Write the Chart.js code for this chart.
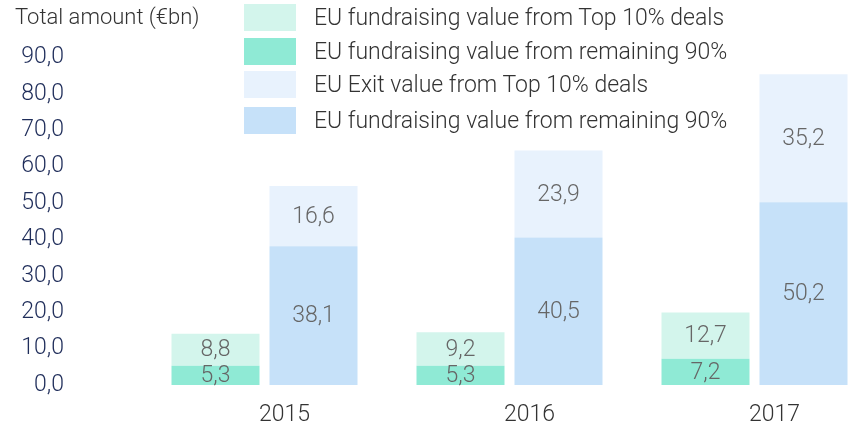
<!DOCTYPE html>
<html>
<head>
<meta charset="utf-8">
<script src="https://cdn.jsdelivr.net/npm/chart.js@4"></script>
<style>
  body { margin: 0; overflow: hidden; background: #fff; font-family: Roboto, "Liberation Sans", sans-serif; font-weight: 300; }
  #wrap { position: relative; width: 877px; height: 428px; }
  #chart { display: block; }
  #yTitle { position: absolute; left: 15px; top: 4px; font-size: 22px; color: #333; line-height: 26px; }
  #legend { position: absolute; left: 244px; top: 0; }
  .item { position: absolute; left: 0; display: flex; align-items: center; height: 27px; }
  .box { width: 52px; height: 27px; margin-right: 18px; }
  .item span { font-size: 23px; color: #333; white-space: nowrap; }
</style>
</head>
<body>
<div id="wrap">
  <canvas id="chart" width="877" height="428"></canvas>
  <div id="yTitle">Total amount (€bn)</div>
  <div id="legend"></div>
</div>
<script>
// Chart data
const years = ['2015', '2016', '2017'];
const fundTop10 = [8.8, 9.2, 12.7];
const fundRest90 = [5.3, 5.3, 7.2];
const exitTop10 = [16.6, 23.9, 35.2];
const exitRest90 = [38.1, 40.5, 50.2];
const yTicks = [0, 10, 20, 30, 40, 50, 60, 70, 80, 90];

const seriesLabels = [
  'EU fundraising value from Top 10% deals',
  'EU fundraising value from remaining 90%',
  'EU Exit value from Top 10% deals',
  'EU fundraising value from remaining 90%'
];
const seriesColors = ['#d3f5ec', '#8fead5', '#e8f2fd', '#c6e1f9'];

function fmt(v) {
  return v.toFixed(1).replace('.', ',');
}

// Build legend (order as in the picture)
const legend = document.getElementById('legend');
const rowTops = [4, 38, 71, 107];
seriesLabels.forEach((label, i) => {
  const item = document.createElement('div');
  item.className = 'item';
  item.style.top = rowTops[i] + 'px';
  item.innerHTML = `<div class="box" style="background:${seriesColors[i]}"></div><span>${label}</span>`;
  legend.appendChild(item);
});

// Value labels inside the bars
const valueLabels = {
  id: 'valueLabels',
  afterDatasetsDraw(chart) {
    const ctx = chart.ctx;
    ctx.save();
    ctx.font = '300 23px Roboto, "Liberation Sans", sans-serif';
    ctx.fillStyle = '#666';
    ctx.textAlign = 'center';
    ctx.textBaseline = 'middle';
    chart.data.datasets.forEach((ds, di) => {
      const meta = chart.getDatasetMeta(di);
      meta.data.forEach((bar, i) => {
        const y = (bar.y + bar.base) / 2;
        ctx.fillText(fmt(ds.data[i]), bar.x, y + 1);
      });
    });
    ctx.restore();
  }
};

const ctx = document.getElementById('chart').getContext('2d');
new Chart(ctx, {
  type: 'bar',
  data: {
    labels: years,
    datasets: [
      { label: seriesLabels[1], data: fundRest90, backgroundColor: seriesColors[1], stack: 'fund' },
      { label: seriesLabels[0], data: fundTop10, backgroundColor: seriesColors[0], stack: 'fund' },
      { label: seriesLabels[3], data: exitRest90, backgroundColor: seriesColors[3], stack: 'exit' },
      { label: seriesLabels[2], data: exitTop10, backgroundColor: seriesColors[2], stack: 'exit' }
    ]
  },
  options: {
    responsive: false,
    animation: false,
    layout: { padding: { top: 21, right: 0, bottom: 0, left: 0 } },
    datasets: {
      bar: { categoryPercentage: 0.8, barPercentage: 0.898 }
    },
    plugins: {
      legend: { display: false },
      tooltip: { enabled: false }
    },
    scales: {
      x: {
        stacked: true,
        grid: { display: false, drawTicks: false },
        border: { display: false },
        ticks: {
          color: '#333',
          padding: 16,
          labelOffset: 20,
          font: { family: 'Roboto, "Liberation Sans", sans-serif', size: 23, weight: 300 }
        },
        afterFit: (scale) => { scale.height = 43; }
      },
      y: {
        stacked: true,
        min: 0,
        max: 100,
        grid: { display: false, drawTicks: false },
        border: { display: false },
        afterBuildTicks: (scale) => {
          scale.ticks = yTicks.map(v => ({ value: v }));
        },
        ticks: {
          color: '#1f2d5a',
          padding: 78,
          font: { family: 'Roboto, "Liberation Sans", sans-serif', size: 23, weight: 300 },
          callback: (value) => fmt(value)
        },
        afterFit: (scale) => {
          scale.width = 142;
          // big tick padding is only meant horizontally
          scale.paddingTop = 0;
          scale.paddingBottom = 0;
        }
      }
    }
  },
  plugins: [valueLabels]
});
</script>
</body>
</html>
